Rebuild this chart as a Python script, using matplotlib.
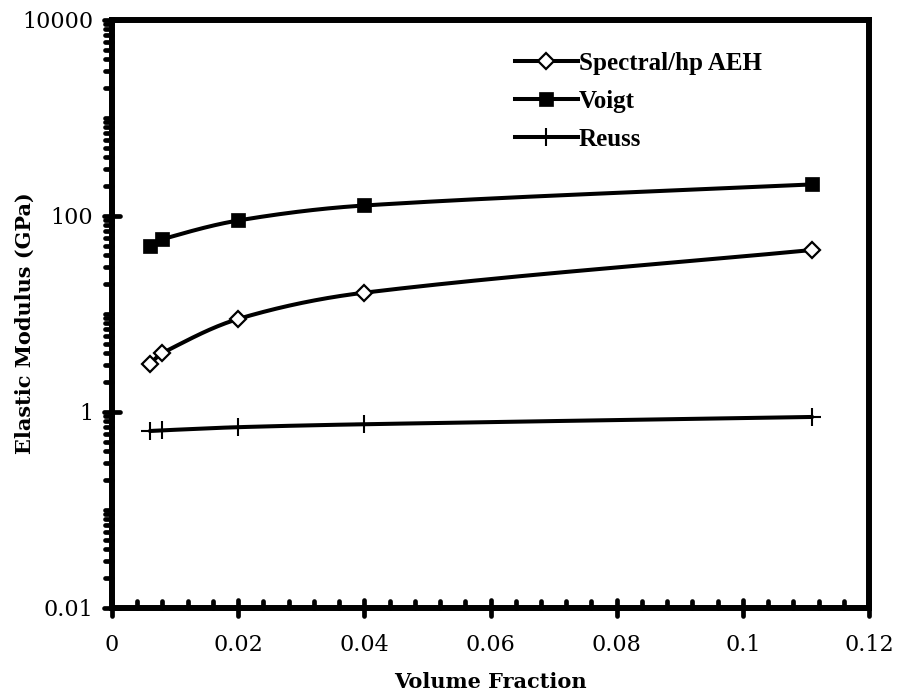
import numpy as np
import matplotlib
matplotlib.use("Agg")
import matplotlib.pyplot as plt
from matplotlib.ticker import FixedLocator, LogLocator, MultipleLocator, FuncFormatter, NullFormatter
from matplotlib.markers import MarkerStyle

# Data
volume_fraction = [0.006, 0.008, 0.02, 0.04, 0.111]
spectral_hp_aeh = [3.1, 4.0, 8.9, 16.5, 45.0]
voigt = [50.0, 58.0, 90.0, 128.0, 210.0]
reuss = [0.64, 0.65, 0.70, 0.75, 0.89]

series_names = ["Spectral/hp AEH", "Voigt", "Reuss"]
y_ticks = [0.01, 1, 100, 10000]
y_tick_labels = ["0.01", "1", "100", "10000"]
x_ticks = [0, 0.02, 0.04, 0.06, 0.08, 0.1, 0.12]
x_tick_labels = ["0", "0.02", "0.04", "0.06", "0.08", "0.1", "0.12"]

fig = plt.figure(figsize=(8.99, 6.96), dpi=100)
ax = fig.add_axes([112 / 899, 1 - 608 / 696, (869 - 112) / 899, (608 - 20) / 696])

ax.set_yscale("log")
ax.set_xlim(0, 0.12)
ax.set_ylim(0.01, 10000)

label_font = dict(family="DejaVu Serif", size=15, weight="bold")


def smooth_curve(xs, ys, n=50):
    """Smoothed Bezier path through the points, built in display space.

    Tangents are scaled by the neighbouring segment lengths so that
    unevenly spaced points do not overshoot.
    """
    pts = ax.transData.transform(np.column_stack([xs, ys]))
    p = np.vstack([pts[0], pts, pts[-1]])
    out = []
    t = np.linspace(0, 1, n)[:, None]
    for i in range(1, len(p) - 2):
        p0, p1, p2, p3 = p[i - 1], p[i], p[i + 1], p[i + 2]
        d01 = np.hypot(*(p1 - p0))
        d12 = np.hypot(*(p2 - p1))
        d23 = np.hypot(*(p3 - p2))
        f1 = d12 / (d01 + d12) / 3.0
        f2 = d12 / (d12 + d23) / 3.0
        c1 = p1 + (p2 - p0) * f1
        c2 = p2 - (p3 - p1) * f2
        seg = ((1 - t) ** 3) * p1 + 3 * ((1 - t) ** 2) * t * c1 + 3 * (1 - t) * t ** 2 * c2 + t ** 3 * p2
        out.append(seg if i == 1 else seg[1:])
    curve = np.vstack(out)
    data = ax.transData.inverted().transform(curve)
    return data[:, 0], data[:, 1]


lw = 2.9
series = [
    (spectral_hp_aeh, dict(marker="D", markersize=8.5, markerfacecolor="white",
                           markeredgecolor="black", markeredgewidth=1.6)),
    (voigt, dict(marker="s", markersize=10.5, markerfacecolor="black",
                 markeredgecolor="black", markeredgewidth=0.5)),
    (reuss, dict(marker="+", markersize=13, markeredgecolor="black",
                 markeredgewidth=1.5)),
]

handles = []
for name, (vals, mstyle) in zip(series_names, series):
    sx, sy = smooth_curve(volume_fraction, vals)
    ax.plot(sx, sy, color="black", linewidth=lw, solid_capstyle="round", zorder=2)
    ax.plot(volume_fraction, vals, linestyle="none", zorder=3, **mstyle)
    h, = ax.plot([], [], color="black", linewidth=lw, **mstyle)
    h.set_label(name)
    handles.append(h)

# Axes frame
for sp in ax.spines.values():
    sp.set_linewidth(4.3)
    sp.set_color("black")

ax.xaxis.set_major_locator(FixedLocator(x_ticks))
ax.xaxis.set_minor_locator(MultipleLocator(0.004))
ax.xaxis.set_major_formatter(FuncFormatter(
    lambda v, pos: x_tick_labels[int(np.argmin([abs(v - t) for t in x_ticks]))]))
ax.yaxis.set_major_locator(FixedLocator(y_ticks))
ax.yaxis.set_minor_locator(LogLocator(base=10, subs=np.arange(1, 10), numticks=50))
ax.yaxis.set_major_formatter(FuncFormatter(
    lambda v, pos: y_tick_labels[int(np.argmin([abs(np.log10(v) - np.log10(t)) for t in y_ticks]))]))
ax.yaxis.set_minor_formatter(NullFormatter())

ax.tick_params(axis="both", which="major", direction="inout", length=11, width=3.4,
               color="black", labelsize=16)
ax.tick_params(axis="x", which="major", pad=13)
ax.tick_params(axis="y", which="major", pad=8)
ax.tick_params(axis="x", which="minor", direction="in", length=5, width=3.4)
ax.tick_params(axis="y", which="minor", direction="out", length=5, width=3.4)
for lab in ax.get_xticklabels() + ax.get_yticklabels():
    lab.set_fontfamily("DejaVu Serif")

for line in (ax.xaxis.get_ticklines() + ax.xaxis.get_ticklines(minor=True)
             + ax.yaxis.get_ticklines() + ax.yaxis.get_ticklines(minor=True)):
    line.set_marker(MarkerStyle(line.get_marker(), capstyle="round"))

ax.set_xlabel("Volume Fraction", va="center", **label_font)
ax.xaxis.set_label_coords(0.5, (608 - 682) / 588)
ax.set_ylabel("Elastic Modulus (GPa)", va="center", **label_font)
ax.yaxis.set_label_coords((25 - 112) / 757, 1 - (323 - 20) / 588)

leg = ax.legend(handles=handles, loc="upper left",
                bbox_to_anchor=((515 - 112) / 757, 1 - (52 - 20) / 588),
                frameon=False, borderpad=0, borderaxespad=0,
                handlelength=2.5, handletextpad=0.05, labelspacing=0.6,
                prop=dict(family="Liberation Serif", weight="bold", size=18))

fig.savefig("out.png", dpi=100, facecolor="white")
